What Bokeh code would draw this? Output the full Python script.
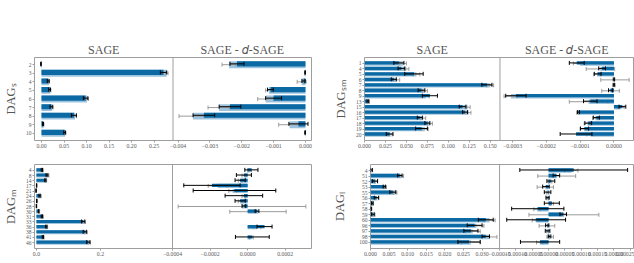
import numpy as np
from bokeh.plotting import figure
from bokeh.layouts import row, column
from bokeh.models import Range1d, FixedTicker, Span, LinearAxis
from bokeh.embed import file_html
from bokeh.resources import INLINE

# ---------------- data ----------------
labels_s = ["2", "3", "4", "5", "6", "7", "8", "9", "10"]
sage_s_light = [-0.0010, 0.2780, 0.0165, 0.0195, 0.1010, 0.0235, 0.0745, 0.0045, 0.0525]
sage_s_light_err = [0.0005, 0.0030, 0.0015, 0.0015, 0.0030, 0.0020, 0.0030, 0.0010, 0.0015]
sage_s_dark = [-0.0012, 0.2710, 0.0150, 0.0180, 0.0980, 0.0220, 0.0720, 0.0035, 0.0515]
sage_s_dark_err = [0.0006, 0.0070, 0.0020, 0.0020, 0.0050, 0.0030, 0.0055, 0.0010, 0.0020]
diff_s_light = [-0.00240, -0.00002, -0.00012, -0.00115, -0.00125, -0.00272, -0.00353, -0.00050, -0.00001]
diff_s_light_err = [0.00022, 0.00001, 0.00014, 0.00010, 0.00025, 0.00034, 0.00044, 0.00034, 0.00001]
diff_s_dark = [-0.00215, -0.00001, -0.00006, -0.00110, -0.00100, -0.00237, -0.00319, -0.00022, -0.00001]
diff_s_dark_err = [0.00022, 0.00001, 0.00005, 0.00009, 0.00025, 0.00034, 0.00034, 0.00030, 0.00001]

labels_sm = ["1", "4", "5", "6", "7", "8", "9", "13", "15", "16", "17", "18", "19", "20"]
sage_sm_light = [0.046, 0.050, 0.062, 0.038, 0.150, 0.072, 0.073, 0.005, 0.123, 0.124, 0.070, 0.078, 0.072, 0.031]
sage_sm_light_err = [0.004, 0.003, 0.004, 0.004, 0.004, 0.003, 0.004, 0.001, 0.003, 0.003, 0.003, 0.003, 0.004, 0.002]
sage_sm_dark = [0.041, 0.044, 0.059, 0.035, 0.146, 0.068, 0.078, 0.004, 0.117, 0.120, 0.066, 0.075, 0.068, 0.030]
sage_sm_dark_err = [0.006, 0.004, 0.011, 0.003, 0.006, 0.004, 0.009, 0.001, 0.004, 0.003, 0.003, 0.003, 0.007, 0.004]
diff_sm_light = [-0.000100, -0.000040, -0.000050, 0.000003, 0.0, -0.000010, -0.000305, -0.000075,
                 0.000020, -0.000107, -0.000055, -0.000078, -0.000088, -0.000070]
diff_sm_light_err = [0.00002, 0.000042, 0.00001, 0.000042, 0.000003, 0.000026, 0.00002, 0.000057,
                     0.00001, 0.000003, 0.000008, 0.00001, 0.000012, 0.00001]
diff_sm_dark = [-0.000110, -0.000035, -0.000048, 0.0, 0.0, -0.000010, -0.000290, -0.000070,
                0.000025, -0.000105, -0.000052, -0.000076, -0.000087, -0.000112]
diff_sm_dark_err = [0.000022, 0.00001, 0.00001, 0.000002, 0.000002, 0.000006, 0.000030, 0.00002,
                    0.000010, 0.000003, 0.000009, 0.00001, 0.000012, 0.000047]

labels_m = ["4", "8", "14", "17", "21", "24", "26", "28", "30", "31", "33", "36", "38", "41", "46"]
sage_m_light = [0.020, 0.036, 0.030, 0.001, -0.001, 0.013, 0.002, 0.0005, 0.009, 0.020, 0.149, 0.033, 0.155, 0.022, 0.165]
sage_m_light_err = [0.002, 0.003, 0.002, 0.0005, 0.0005, 0.002, 0.0005, 0.0005, 0.001, 0.002, 0.004, 0.002, 0.004, 0.002, 0.004]
sage_m_dark = [0.017, 0.033, 0.028, 0.0005, -0.001, 0.010, 0.001, 0.0, 0.007, 0.017, 0.146, 0.031, 0.151, 0.020, 0.162]
sage_m_dark_err = [0.002, 0.003, 0.002, 0.0005, 0.0005, 0.002, 0.0005, 0.0005, 0.001, 0.002, 0.005, 0.002, 0.005, 0.002, 0.005]
diff_m_light = [0.000010, -0.000020, -0.000040, -0.000160, -0.000080, -0.000020, -0.000040, -0.000030,
                0.000055, 0.0, 0.0, 0.000050, 0.0, 0.000020, 0.0]
diff_m_light_err = [0.00001, 0.00001, 0.00001, 0.00005, 0.00002, 0.00001, 0.00001, 0.00034,
                    0.00015, 0.0, 0.0, 0.00002, 0.0, 0.00001, 0.0]
diff_m_dark = [0.000020, -0.000020, -0.000040, -0.000190, -0.000070, -0.000020, -0.000040, -0.000020,
               0.000050, 0.0, 0.0, 0.000090, 0.0, 0.000025, 0.0]
diff_m_dark_err = [0.000035, 0.00004, 0.000027, 0.00015, 0.00022, 0.0001, 0.000027, 0.00001,
                   0.00001, 0.0, 0.0, 0.00004, 0.0, 0.00009, 0.0]

labels_l = ["4", "51", "52", "53", "55", "56", "57", "58", "59", "60", "96", "97", "98", "100"]
sage_l_light = [0.0002, 0.0084, 0.0015, 0.0040, 0.0066, 0.0018, 0.0006, 0.0002, 0.0009, 0.0320, 0.0285, 0.0275, 0.0320, 0.0270]
sage_l_light_err = [0.0002, 0.0005, 0.0004, 0.0003, 0.0005, 0.0004, 0.0002, 0.0001, 0.0003, 0.0015, 0.0020, 0.0020, 0.0020, 0.0025]
sage_l_dark = [0.0002, 0.0079, 0.0012, 0.0037, 0.0060, 0.0016, 0.0005, 0.0002, 0.0006, 0.0310, 0.0280, 0.0270, 0.0310, 0.0265]
sage_l_dark_err = [0.0003, 0.0006, 0.0007, 0.0003, 0.0008, 0.0006, 0.0002, 0.0001, 0.0004, 0.0020, 0.0020, 0.0019, 0.0010, 0.0030]
diff_l_light = [0.000070, 0.000025, 0.000005, -0.000010, -0.000003, -0.000003, 0.000010, -0.000035,
                0.000047, -0.000040, -0.000005, -0.000003, 0.000005, -0.000027]
diff_l_light_err = [0.00002, 0.000058, 0.000005, 0.000025, 0.000004, 0.000003, 0.000005, 0.00001,
                    0.000107, 0.00001, 0.000024, 0.000003, 0.00001, 0.00001]
diff_l_dark = [0.000077, 0.000024, 0.000007, -0.000008, -0.000003, -0.000003, 0.000010, -0.000033,
               0.000045, -0.000038, -0.000004, -0.000003, 0.000003, -0.000026]
diff_l_dark_err = [0.000165, 0.00001, 0.000012, 0.00001, 0.00001, 0.000005, 0.000023, 0.00008,
                   0.00001, 0.00009, 0.000005, 0.000007, 0.000004, 0.00006]

# axis ranges and ticks (per panel)
sage_s_range, sage_s_ticks = (-0.0155, 0.292), [0.0, 0.05, 0.10, 0.15, 0.20, 0.25]
diff_s_range, diff_s_ticks = (-0.00416, 0.00019), [-0.004, -0.003, -0.002, -0.001, 0.0]
sage_sm_range, sage_sm_ticks = (0.0, 0.1616), [0.0, 0.025, 0.05, 0.075, 0.10, 0.125, 0.15]
diff_sm_range, diff_sm_ticks = (-0.000337, 0.0000578), [-0.0003, -0.0002, -0.0001, 0.0]
sage_m_range, sage_m_ticks = (-0.006, 0.425), [0.0, 0.2]
diff_m_range, diff_m_ticks = (-0.0004, 0.00034), [-0.0004, -0.0002, 0.0, 0.0002]
sage_l_range, sage_l_ticks = (0.0, 0.0347), [0.0, 0.005, 0.010, 0.015, 0.020, 0.025, 0.030]
diff_l_range, diff_l_ticks = (-0.00015, 0.00026), [-0.00015, -0.0001, -0.00005, 0.0, 0.00005, 0.0001, 0.00015, 0.0002, 0.00025]

titles = ["SAGE", "SAGE - \U0001D451-SAGE"]
ylabels = ["DAG\u209b", "DAG\u209b\u2098", "DAG\u2098", "DAG\u2097"]

# ---------------- style ----------------
DARK = "#0b69a4"
LIGHT = "#9dc3df"
GREY = "#9b9b9b"
FRAME = "#9e9e9e"
TXT = "#555555"
TICKTXT = "#5a5a5a"
SERIF = "Liberation Serif"


def draw_series(p, rng, y, L, eL, D, eD):
    L, eL, D, eD = map(np.asarray, (L, eL, D, eD))
    yd = y - 0.1
    p.hbar(y=y, left=0, right=L, height=0.8, fill_color=LIGHT, line_color=None, x_range_name=rng)
    for val, err, yy, col in ((L, eL, y, GREY), (D, eD, yd, "black")):
        if col == "black":
            p.hbar(y=yd, left=0, right=D, height=0.6, fill_color=DARK, line_color=None, x_range_name=rng)
        m = err > 0
        p.segment(x0=(val - err)[m], x1=(val + err)[m], y0=yy[m], y1=yy[m],
                  line_color=col, line_width=1, x_range_name=rng)
        p.scatter(x=np.concatenate([(val - err)[m], (val + err)[m]]),
                  y=np.concatenate([yy[m], yy[m]]), marker="dash", angle=np.pi / 2,
                  size=4, line_color=col, line_width=1, x_range_name=rng)


def fmt_tick(v, fmt):
    s = fmt % v
    if float(s) == 0:
        s = s.lstrip("-")
    return s.replace("-", "\u2212")


def make_group(width, height, bl, br, bt, bb, w1, w2, labels, ylabel, ylab_standoff,
               sage, sage_rng, sage_ticks, sage_fmt,
               diff, diff_rng, diff_ticks, diff_fmt, with_titles):
    n = len(labels)
    m = 0.05 * (n - 0.2)
    wf = w1 + w2
    p = figure(width=width, height=height, x_range=Range1d(0, wf),
               y_range=Range1d(n - 1 + 0.4 + m, -0.4 - m),
               output_backend="svg", toolbar_location=None,
               min_border_left=bl, min_border_right=br, min_border_top=bt, min_border_bottom=bb)
    a, b = sage_rng
    c, d = diff_rng
    p.extra_x_ranges = {"sage": Range1d(a, a + (b - a) * wf / w1),
                        "diff": Range1d(d - (d - c) * wf / w2, d)}
    p.xgrid.visible = False
    p.ygrid.visible = False
    p.outline_line_color = FRAME
    p.outline_line_width = 1
    p.background_fill_color = "white"
    p.border_fill_color = "white"

    y = np.arange(n, dtype=float)
    draw_series(p, "sage", y, *sage)
    draw_series(p, "diff", y, *diff)

    p.add_layout(Span(location=w1, dimension="height", line_color=FRAME, line_width=1))

    # x axis: ticks of both panels on one axis
    pos, over = [], {}
    for v in sage_ticks:
        t = (v - a) / (b - a) * w1
        pos.append(t)
        over[t] = fmt_tick(v, sage_fmt)
    for v in diff_ticks:
        t = w1 + (v - c) / (d - c) * w2
        pos.append(t)
        over[t] = fmt_tick(v, diff_fmt)
    xa = p.xaxis[0]
    xa.ticker = FixedTicker(ticks=pos)
    xa.major_label_overrides = over
    xa.axis_line_color = None
    xa.major_tick_line_color = FRAME
    xa.major_tick_out = 2
    xa.major_tick_in = 0
    xa.minor_tick_line_color = None
    xa.major_label_standoff = 1
    xa.major_label_text_font = SERIF
    xa.major_label_text_font_size = "5.8px"
    xa.major_label_text_color = TICKTXT

    ya = p.yaxis[0]
    ya.ticker = FixedTicker(ticks=list(range(n)))
    ya.major_label_overrides = {i: lab for i, lab in enumerate(labels)}
    ya.axis_line_color = None
    ya.major_tick_line_color = FRAME
    ya.major_tick_out = 2
    ya.major_tick_in = 0
    ya.minor_tick_line_color = None
    ya.major_label_standoff = 1
    ya.major_label_text_font = SERIF
    ya.major_label_text_font_size = "5.5px"
    ya.major_label_text_color = TICKTXT
    ya.axis_label = ylabel
    ya.axis_label_text_font = SERIF
    ya.axis_label_text_font_style = "normal"
    ya.axis_label_text_font_size = "12.5px"
    ya.axis_label_text_color = TXT
    ya.axis_label_standoff = ylab_standoff

    if with_titles:
        tpos = [w1 / 2, w1 + w2 / 2]
        ta = LinearAxis(ticker=FixedTicker(ticks=tpos),
                        major_label_overrides={tpos[0]: titles[0], tpos[1]: titles[1]})
        ta.axis_line_color = None
        ta.major_tick_line_color = None
        ta.minor_tick_line_color = None
        ta.major_tick_out = 0
        ta.major_tick_in = 0
        ta.major_label_standoff = 1
        ta.major_label_text_font = SERIF
        ta.major_label_text_font_size = "12px"
        ta.major_label_text_color = TXT
        p.add_layout(ta, "above")
    return p


p_tl = make_group(330, 151, 33, 19, 57, 11, 139, 139, labels_s, ylabels[0], 5,
                  (sage_s_light, sage_s_light_err, sage_s_dark, sage_s_dark_err), sage_s_range, sage_s_ticks, "%.2f",
                  (diff_s_light, diff_s_light_err, diff_s_dark, diff_s_dark_err), diff_s_range, diff_s_ticks, "%.3f",
                  True)
p_tr = make_group(304, 151, 27, 1, 57, 11, 139, 137, labels_sm, ylabels[1], 5,
                  (sage_sm_light, sage_sm_light_err, sage_sm_dark, sage_sm_dark_err), sage_sm_range, sage_sm_ticks, "%.3f",
                  (diff_sm_light, diff_sm_light_err, diff_sm_dark, diff_sm_dark_err), diff_sm_range, diff_sm_ticks, "%.4f",
                  True)
p_bl = make_group(330, 112, 34, 19, 13, 15, 138, 139, labels_m, ylabels[2], 5,
                  (sage_m_light, sage_m_light_err, sage_m_dark, sage_m_dark_err), sage_m_range, sage_m_ticks, "%.1f",
                  (diff_m_light, diff_m_light_err, diff_m_dark, diff_m_dark_err), diff_m_range, diff_m_ticks, "%.4f",
                  False)
p_br = make_group(304, 112, 34, 1, 13, 15, 132, 137, labels_l, ylabels[3], 9,
                  (sage_l_light, sage_l_light_err, sage_l_dark, sage_l_dark_err), sage_l_range, sage_l_ticks, "%.3f",
                  (diff_l_light, diff_l_light_err, diff_l_dark, diff_l_dark_err), diff_l_range, diff_l_ticks, "%.5f",
                  False)

layout = column(row(p_tl, p_tr), row(p_bl, p_br))
open("out.html", "w").write(file_html(layout, INLINE))
